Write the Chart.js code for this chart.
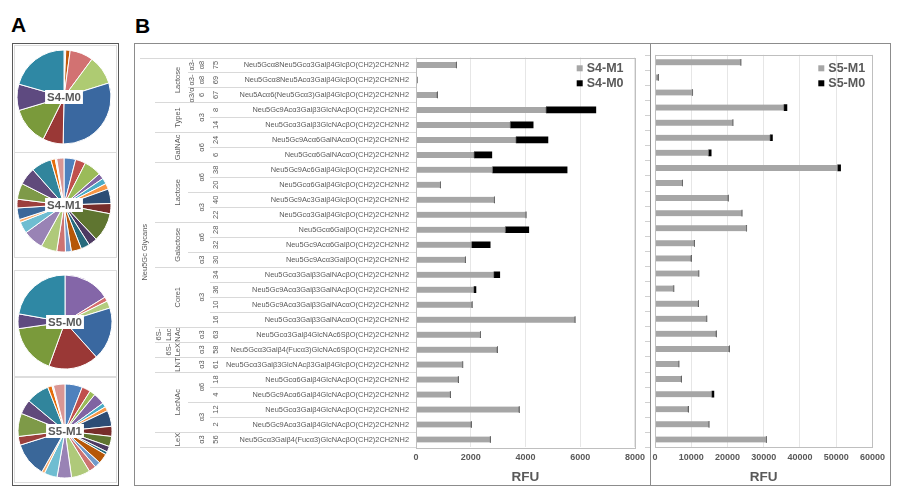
<!DOCTYPE html>
<html><head><meta charset="utf-8">
<script src="https://cdn.jsdelivr.net/npm/chart.js@4.4.0/dist/chart.umd.min.js"></script>
<style>
body{margin:0;width:900px;height:494px;background:#fff;position:relative;overflow:hidden;font-family:"Liberation Sans",Arial,sans-serif;}
.abs{position:absolute;box-sizing:border-box;}
canvas{position:absolute;}
</style></head><body>
<div class="abs" style="left:11px;top:14px;font-size:21px;line-height:1;font-weight:bold;color:#000">A</div>
<div class="abs" style="left:135px;top:15px;font-size:21px;line-height:1;font-weight:bold;color:#000">B</div>
<div class="abs" style="left:12px;top:43px;width:107px;height:443px;border:1px solid #595959"></div>
<div class="abs" style="left:14px;top:45px;width:103px;height:108px;border:1px solid #DDDDDD"></div>
<div class="abs" style="left:14px;top:152px;width:103px;height:106px;border:1px solid #DDDDDD"></div>
<div class="abs" style="left:14px;top:270px;width:103px;height:107px;border:1px solid #DDDDDD"></div>
<div class="abs" style="left:14px;top:377px;width:103px;height:106px;border:1px solid #DDDDDD"></div>
<canvas id="p1" width="100" height="100" style="left:14px;top:47px"></canvas>
<canvas id="p2" width="100" height="100" style="left:14px;top:155px"></canvas>
<canvas id="p3" width="100" height="100" style="left:15px;top:272px"></canvas>
<canvas id="p4" width="100" height="100" style="left:15px;top:381px"></canvas>
<div class="abs" style="left:134px;top:43px;width:757px;height:443px;border:1px solid #8C8C8C"></div>
<canvas id="c1" width="515" height="442" style="left:135px;top:43px"></canvas>
<canvas id="c2" width="250" height="442" style="left:640px;top:43px"></canvas>
<div class="abs" style="left:650px;top:43px;width:1px;height:443px;background:#8C8C8C"></div>
<script>
const FONT = '"Liberation Sans", Arial, sans-serif';
Chart.defaults.font.family = FONT;

// ---------- data ----------
const glycans = [
 'Neu5Gcα8Neu5Gcα3Galβ4GlcβO(CH2)2CH2NH2',
 'Neu5Gcα8Neu5Acα3Galβ4GlcβO(CH2)2CH2NH2',
 'Neu5Acα6(Neu5Gcα3)Galβ4GlcβO(CH2)2CH2NH2',
 'Neu5Gc9Acα3Galβ3GlcNAcβO(CH2)2CH2NH2',
 'Neu5Gcα3Galβ3GlcNAcβO(CH2)2CH2NH2',
 'Neu5Gc9Acα6GalNAcαO(CH2)2CH2NH2',
 'Neu5Gcα6GalNAcαO(CH2)2CH2NH2',
 'Neu5Gc9Ac6Galβ4GlcβO(CH2)2CH2NH2',
 'Neu5Gcα6Galβ4GlcβO(CH2)2CH2NH2',
 'Neu5Gc9Ac3Galβ4GlcβO(CH2)2CH2NH2',
 'Neu5Gcα3Galβ4GlcβO(CH2)2CH2NH2',
 'Neu5Gcα6GalβO(CH2)2CH2NH2',
 'Neu5Gc9Acα6GalβO(CH2)2CH2NH2',
 'Neu5Gc9Acα3GalβO(CH2)2CH2NH2',
 'Neu5Gcα3Galβ3GalNAcβO(CH2)2CH2NH2',
 'Neu5Gc9Acα3Galβ3GalNAcβO(CH2)2CH2NH2',
 'Neu5Gc9Acα3Galβ3GalNAcαO(CH2)2CH2NH2',
 'Neu5Gcα3Galβ3GalNAcαO(CH2)2CH2NH2',
 'Neu5Gcα3Galβ4GlcNAc6SβO(CH2)2CH2NH2',
 'Neu5Gcα3Galβ4(Fucα3)GlcNAc6SβO(CH2)2CH2NH2',
 'Neu5Gcα3Galβ3GlcNAcβ3Galβ4GlcβO(CH2)2CH2NH2',
 'Neu5Gcα6Galβ4GlcNAcβO(CH2)2CH2NH2',
 'Neu5Gc9Acα6Galβ4GlcNAcβO(CH2)2CH2NH2',
 'Neu5Gcα3Galβ4GlcNAcβO(CH2)2CH2NH2',
 'Neu5Gc9Acα3Galβ4GlcNAcβO(CH2)2CH2NH2',
 'Neu5Gcα3Galβ4(Fucα3)GlcNAcβO(CH2)2CH2NH2'
];
const glycanIds = ['75','69','67','8','14','24','6','38','20','40','22','28','32','30','34','36','10','16','63','58','61','18','4','12','2','56'];
// linkage cells: [firstRow, lastRow, lines]
const linkageCells = [
 [0,0,['α3-','α8']],[1,1,['α3-','α8']],[2,2,['α3/α','6']],
 [3,4,['α3']],[5,6,['α6']],[7,8,['α6']],[9,10,['α3']],
 [11,12,['α6']],[13,13,['α3']],[14,17,['α3']],
 [18,18,['α3']],[19,19,['α3']],[20,20,['α3']],
 [21,22,['α6']],[23,24,['α3']],[25,25,['α3']]
];
const groupCells = [
 [0,2,['Lactose']],[3,4,['Type1']],[5,6,['GalNAc']],[7,10,['Lactose']],
 [11,13,['Galactose']],[14,17,['Core1']],[18,18,['6S-','Lac','NAc']],
 [19,19,['6S-','LeX']],[20,20,['LNT']],[21,24,['LacNAc']],[25,25,['LeX']]
];
const familyLabel = 'Neu5Gc Glycans';

const s4m1 = [1480,40,780,4760,3450,3660,2130,2800,900,2870,4020,3270,2040,1810,2850,2120,2050,5810,2360,2970,1710,1550,1260,3770,2020,2720];
const s4m0 = [0,0,0,1810,830,1160,640,2720,0,0,0,850,670,0,210,70,0,0,0,0,0,0,0,0,0,0];
const s5m1 = [23700,900,10400,35600,21500,31800,14800,50400,7600,20200,24000,25300,10900,10000,12100,5200,12000,14300,16900,20500,6600,7300,15700,9200,14900,30800];
const s5m0 = [0,0,0,800,0,600,700,800,0,0,0,0,0,0,0,0,0,0,0,0,0,0,550,0,0,0];
const ticks4 = [0,2000,4000,6000,8000];
const ticks5 = [0,10000,20000,30000,40000,50000,60000];

// pies (shares, clockwise from top)
const pieS4M0 = [0.6,1.5,8,10,30,7,13,9,20.5];
const pieS4M0Colors = ['#C6D9F1','#C0580B','#D27272','#AECB72','#3A68A0','#9A3836','#7A9A3B','#5E4A80','#2F88A4'];
const pieS5M0 = [16,1.5,2.5,18,17,17,5,22];
const pieS5M0Colors = ['#8466A8','#D46E6E','#B3CC7F','#3A68A0','#9A3836','#7A9A3B','#5E4A80','#2F88A4'];
const pieM1Colors = ['#4F81BD','#C0504D','#9BBB59','#8064A2','#4BACC6','#F79646','#2C4D75','#772C2A','#5F7530','#4D3B62','#276A7C','#B65708','#729ACA','#CD7371','#AFC97A','#9983B5','#6FBDD1','#F9AB6B','#3A6799','#9C3F3D','#7E9A48','#604A7B','#31859C','#E46C0A','#DCE6F2','#D99694'];
const pieS4M1 = [4,3.5,6,2,2,2,5,3.5,10,3,3,3.5,2,3,5.5,7,4,1,4,3,5.5,6,7,1.5,0.5,2.5];
const pieS5M1 = [6,3,2,4,1.5,1.5,5.5,3.5,3.5,2,1,3.5,2,2.5,6.5,5,4.5,1,12,3,8,5,8,1.5,0.5,4];

// ---------- plugins ----------
const centerLabel = {
  id:'centerLabel',
  afterDraw(chart, args, opts){
    const {ctx, chartArea:a} = chart;
    const cx=(a.left+a.right)/2, cy=(a.top+a.bottom)/2;
    ctx.save();
    ctx.font = 'bold 11.5px '+FONT;
    const w = ctx.measureText(opts.text).width + 4;
    ctx.fillStyle='#fff';
    ctx.fillRect(cx-w/2, cy-7, w, 14);
    ctx.fillStyle='#595959';
    ctx.textAlign='center'; ctx.textBaseline='middle';
    ctx.fillText(opts.text, cx, cy+0.5);
    ctx.restore();
  }
};
function makePie(id, data, colors, text){
  new Chart(document.getElementById(id), {
    type:'pie',
    data:{labels:data.map((_,i)=>'g'+i), datasets:[{data, backgroundColor:colors, borderColor:'#fff', borderWidth:1}]},
    options:{responsive:false, animation:false, devicePixelRatio:1, radius:47, layout:{padding:0},
      plugins:{legend:{display:false}, tooltip:{enabled:false}, centerLabel:{text}}},
    plugins:[centerLabel]
  });
}
makePie('p1', pieS4M0, pieS4M0Colors, 'S4-M0');
makePie('p2', pieS4M1, pieM1Colors, 'S4-M1');
makePie('p3', pieS5M0, pieS5M0Colors, 'S5-M0');
makePie('p4', pieS5M1, pieM1Colors, 'S5-M1');

const frame = {
  id:'frame',
  afterDraw(chart){
    const {ctx, chartArea:a} = chart;
    ctx.save(); ctx.strokeStyle='#BFBFBF'; ctx.lineWidth=1;
    ctx.strokeRect(Math.round(a.left)+0.5, Math.round(a.top)+0.5, Math.round(a.right-a.left), Math.round(a.bottom-a.top));
    ctx.restore();
  }
};
const boxLegend = {
  id:'boxLegend',
  afterDraw(chart, args, opts){
    const {ctx} = chart;
    ctx.save();
    ctx.font='bold 12.5px '+FONT; ctx.textBaseline='middle'; ctx.textAlign='left';
    chart.data.datasets.forEach((ds,i)=>{
      const y = opts.y + i*15;
      ctx.fillStyle = ds.backgroundColor;
      ctx.fillRect(opts.x, y-3, 6, 6);
      ctx.fillStyle='#595959';
      ctx.fillText(ds.label, opts.x+10, y+0.5);
    });
    ctx.restore();
  }
};
const OFF = 135; // canvas left of left chart
const table = {
  id:'table',
  afterDraw(chart){
    const {ctx, chartArea:a} = chart;
    const y = chart.scales.y;
    const band = y.getPixelForValue(1) - y.getPixelForValue(0);
    const top = y.getPixelForValue(0) - band/2;
    const rowTop = i => top + i*band;
    const groupOf = i => groupCells.findIndex(c => i>=c[0] && i<=c[1]);
    const linkOf = i => linkageCells.findIndex(c => i>=c[0] && i<=c[1]);
    ctx.save();
    ctx.strokeStyle='#D9D9D9'; ctx.lineWidth=1;
    const n = glycans.length;
    for (let i=0;i<=n;i++){
      let x0;
      if (i===0 || i===n) x0 = 140;
      else if (groupOf(i)!==groupOf(i-1)) x0 = 155;
      else if (linkOf(i)!==linkOf(i-1)) x0 = 188;
      else x0 = 210;
      const yy = Math.round(rowTop(i))+0.5;
      ctx.beginPath(); ctx.moveTo(x0-OFF, yy); ctx.lineTo(a.left, yy); ctx.stroke();
    }
    ctx.fillStyle='#595959';
    ctx.textAlign='center'; ctx.textBaseline='middle';
    ctx.font='7.5px '+FONT;
    const vtext = (t, x, yc) => { ctx.save(); ctx.translate(x, yc); ctx.rotate(-Math.PI/2); ctx.fillText(t,0,0); ctx.restore(); };
    glycanIds.forEach((t,i)=> vtext(t, 216-OFF, y.getPixelForValue(i)));
    const drawCells = (cells, lastX) => cells.forEach(c=>{
      const yc = (rowTop(c[0]) + rowTop(c[1]+1))/2;
      const L = c[2];
      L.forEach((t,k)=> vtext(t, lastX - OFF - (L.length-1-k)*9.3, yc));
    });
    drawCells(linkageCells, 201.5);
    drawCells(groupCells, 178);
    vtext(familyLabel, 145-OFF, (rowTop(0)+rowTop(n))/2);
    ctx.restore();
  }
};
const sideTicks = {
  id:'sideTicks',
  afterDraw(chart){
    const {ctx} = chart;
    const y = chart.scales.y;
    const band = y.getPixelForValue(1) - y.getPixelForValue(0);
    const top = y.getPixelForValue(0) - band/2;
    ctx.save(); ctx.strokeStyle='#D0D0D0'; ctx.lineWidth=1;
    for (let i=0;i<=glycans.length;i++){
      const yy = Math.round(top+i*band)+0.5;
      ctx.beginPath(); ctx.moveTo(5, yy); ctx.lineTo(10, yy); ctx.stroke();
    }
    ctx.restore();
  }
};

function xScale(max, tickList){
  return {stacked:true, min:0, max, afterBuildTicks(s){ s.ticks = tickList.map(v=>({value:v})); },
    ticks:{color:'#595959', font:{size:9, weight:'bold'}, padding:5, maxRotation:0, autoSkip:false, callback:v=>String(v)},
    grid:{color:'#E6E6E6', drawTicks:false}, border:{display:false},
    title:{display:true, text:'RFU', color:'#595959', font:{size:13.5, weight:'bold'}, padding:{top:1,bottom:0}},
    afterFit(s){ s.height = 38; }};
}

new Chart(document.getElementById('c1'), {
  type:'bar',
  data:{labels:glycans, datasets:[
    {label:'S4-M1', data:s4m1, backgroundColor:'#A6A6A6', borderColor:'#6F6F6F', borderWidth:{top:0,bottom:0,left:0,right:1}, borderSkipped:false, barThickness:6},
    {label:'S4-M0', data:s4m0, backgroundColor:'#000000', borderWidth:0, barThickness:6}]},
  options:{indexAxis:'y', responsive:false, animation:false, devicePixelRatio:1,
    layout:{padding:{top:14.5, right:14, left:0, bottom:0}},
    plugins:{legend:{display:false}, tooltip:{enabled:false}, boxLegend:{x:441.7, y:25.3}},
    scales:{
      x: xScale(8000, ticks4),
      y:{stacked:true, ticks:{autoSkip:false, color:'#595959', font:{size:7.4}, padding:7}, grid:{display:false, drawTicks:false}, border:{display:false}, afterFit(s){ s.width = 281; }}
    }},
  plugins:[table, frame, boxLegend]
});

new Chart(document.getElementById('c2'), {
  type:'bar',
  data:{labels:glycans, datasets:[
    {label:'S5-M1', data:s5m1, backgroundColor:'#A6A6A6', borderColor:'#6F6F6F', borderWidth:{top:0,bottom:0,left:0,right:1}, borderSkipped:false, barThickness:6},
    {label:'S5-M0', data:s5m0, backgroundColor:'#000000', borderWidth:0, barThickness:6}]},
  options:{indexAxis:'y', responsive:false, animation:false, devicePixelRatio:1,
    layout:{padding:{top:11.8, right:16, left:0, bottom:0}},
    plugins:{legend:{display:false}, tooltip:{enabled:false}, boxLegend:{x:178.3, y:25.3}},
    scales:{
      x: xScale(60000, ticks5),
      y:{stacked:true, ticks:{display:false}, grid:{display:false, drawTicks:false}, border:{display:false}, afterFit(s){ s.width = 15; }}
    }},
  plugins:[sideTicks, frame, boxLegend]
});
</script>
</body></html>
